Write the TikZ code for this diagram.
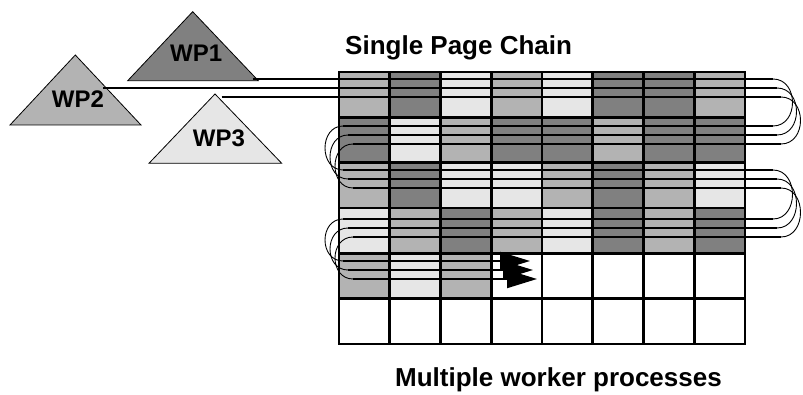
\documentclass[tikz,border=0pt]{standalone}
\usepackage{fontspec}
\setmainfont{Liberation Sans}
\usetikzlibrary{arrows.meta}
\definecolor{gdark}{gray}{0.502}
\definecolor{glight}{gray}{0.702}
\definecolor{gpale}{gray}{0.902}
\begin{document}
\begin{tikzpicture}[x=1pt,y=-1pt,
  lbl/.style={font=\bfseries\fontsize{26}{26}\selectfont, inner sep=0pt, anchor=base west},
  wplbl/.style={font=\bfseries\fontsize{24}{24}\selectfont, inner sep=0pt, anchor=base west},
  wptri/.style={draw=black, line width=0.8pt, line join=miter},
  gridline/.style={line width=2.7pt},
  thread/.style={line width=2pt},
  turn/.style={line width=0.9pt},
  tiparrow/.style={-{Triangle[length=30pt,width=18pt]}}
]
\useasboundingbox (0,0) rectangle (803,395);

% worker process triangles
\draw[wptri, fill=gdark]  (127.7,80.7) -- (192.7,11.7) -- (258.3,80.7) -- cycle;
\draw[wptri, fill=glight] (10,125) -- (75.3,55) -- (141,125) -- cycle;
\draw[wptri, fill=gpale]  (149,163.3) -- (215,94) -- (281.7,163.3) -- cycle;
\node[wplbl] (wp1) at (170,61.7) {WP1};
\node[wplbl] (wp2) at (51.7,107.3) {WP2};
\node[wplbl] (wp3) at (192.7,146.7) {WP3};

% titles
\node[lbl] (title) at (345,55) {Single Page Chain};
\node[lbl] (caption) at (395,386.7) {Multiple worker processes};

% grid cells
\foreach \r/\cl in {
  0/{glight,gdark,gpale,glight,gpale,gdark,gdark,glight},
  1/{gdark,gpale,glight,gdark,gdark,glight,gdark,gdark},
  2/{glight,gdark,gpale,gpale,glight,gdark,glight,gpale},
  3/{gpale,glight,gdark,glight,gpale,gdark,glight,gdark},
  4/{glight,gpale,glight,white,white,white,white,white},
  5/{white,white,white,white,white,white,white,white}} {
  \foreach \c [count=\j from 0] in \cl {
    \fill[\c] (339+50.75*\j, 72+45.333*\r) rectangle ++(50.75,45.333);
  }
}
% grid lines
\foreach \j in {1,...,7} {
  \draw[gridline] (339+50.75*\j,72) -- (339+50.75*\j,344);
}
\foreach \r in {1,...,5} {
  \draw[gridline] (339,72+45.333*\r) -- (745,72+45.333*\r);
}
\draw[gridline] (339,72) rectangle (745,344);

% thread start points
\coordinate (s0) at (253,79);
\coordinate (s1) at (103,88);
\coordinate (s2) at (221.7,97);

% threads of the page chain
\foreach \i/\ya/\yb/\yc/\yd/\ye/\tip in {0/79/126/170/219/261/530, 1/88/135/179/228/270/533, 2/97/144/188/237/279/537} {
  \pgfmathsetmacro\xr{773+4*\i}
  \pgfmathsetmacro\xl{343+5*\i}
  \coordinate (r0\i) at (\xr,\ya);
  \coordinate (r1\i) at (\xr,\yb);
  \coordinate (l1\i) at (\xl,\yb);
  \coordinate (l2\i) at (\xl,\yc);
  \coordinate (r2\i) at (\xr,\yc);
  \coordinate (r3\i) at (\xr,\yd);
  \coordinate (l3\i) at (\xl,\yd);
  \coordinate (l4\i) at (\xl,\ye);
  \coordinate (e\i) at (\tip,\ye);
  \draw[thread] (s\i) -- (r0\i);
  \draw[thread] (r1\i) -- (l1\i);
  \draw[thread] (l2\i) -- (r2\i);
  \draw[thread] (r3\i) -- (l3\i);
  \draw[thread, tiparrow] (l4\i) -- (e\i);
  \draw[turn] (r0\i) .. controls +(26,0) and +(26,0) .. (r1\i);
  \draw[turn] (l1\i) .. controls +(-24,0) and +(-24,0) .. (l2\i);
  \draw[turn] (r2\i) .. controls +(26,0) and +(26,0) .. (r3\i);
  \draw[turn] (l3\i) .. controls +(-24,0) and +(-24,0) .. (l4\i);
}
\end{tikzpicture}
\end{document}
